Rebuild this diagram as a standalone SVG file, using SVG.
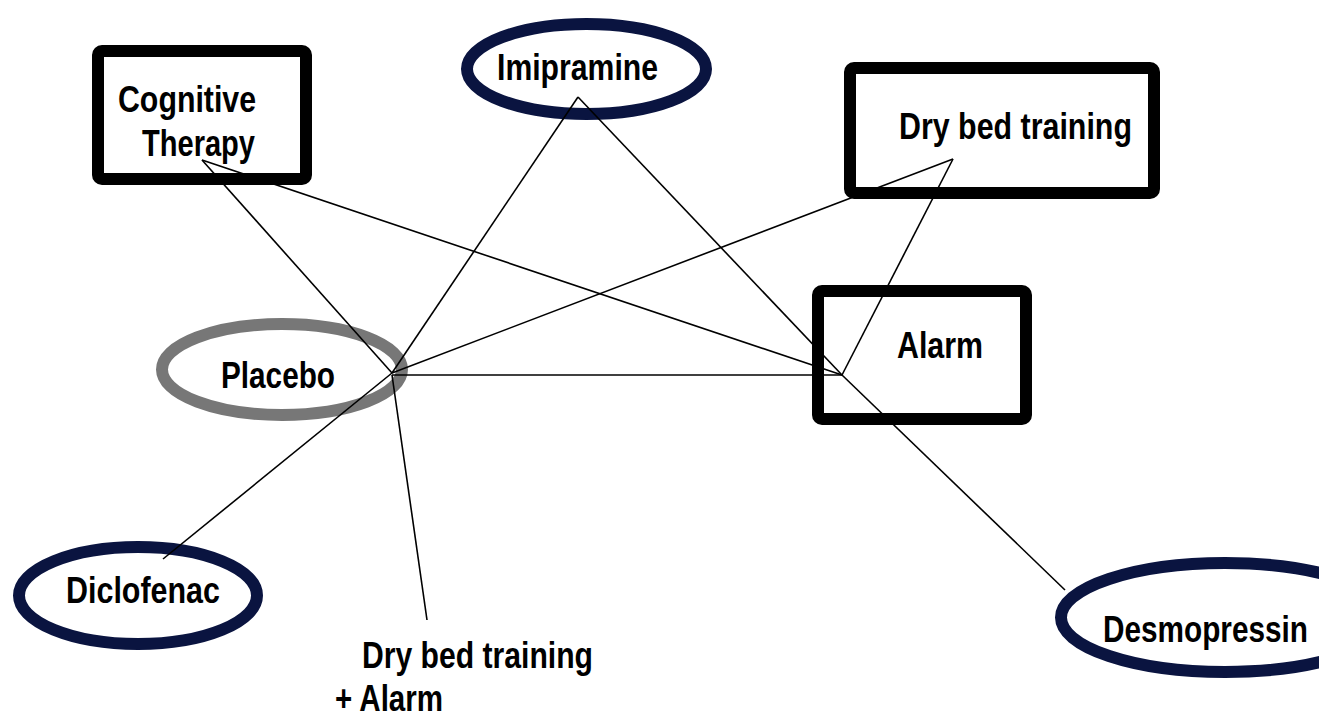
<svg xmlns="http://www.w3.org/2000/svg" width="1319" height="715" viewBox="0 0 1319 715">
<style>
.box{fill:#fff;stroke:#000;stroke-width:12}
.ell{fill:#fff;stroke:#0a1440;stroke-width:12}
.plc{fill:#fff;stroke:#777;stroke-width:12}
.lbl{font-family:"Liberation Sans Narrow","Liberation Sans",Arial,sans-serif;font-weight:bold;font-size:36px;fill:#000}
.edge{stroke:#000;stroke-width:1.6;fill:none}
</style>
<rect width="1319" height="715" fill="#fff"/>
<g id="node-cognitive">
<rect class="box" x="98" y="51" width="208" height="128" rx="4"/>
<text class="lbl" x="118" y="112" textLength="138" lengthAdjust="spacingAndGlyphs">Cognitive</text>
<text class="lbl" x="142" y="156" textLength="113" lengthAdjust="spacingAndGlyphs">Therapy</text>
</g>
<g id="node-imipramine">
<ellipse class="ell" cx="586.5" cy="69" rx="119.5" ry="45"/>
<text class="lbl" x="497" y="80" textLength="161" lengthAdjust="spacingAndGlyphs">Imipramine</text>
</g>
<g id="node-drybed">
<rect class="box" x="850" y="68" width="304" height="125" rx="4"/>
<text class="lbl" x="899" y="139" textLength="233" lengthAdjust="spacingAndGlyphs">Dry bed training</text>
</g>
<g id="node-alarm">
<rect class="box" x="818" y="291" width="208" height="128" rx="4"/>
<text class="lbl" x="897" y="358" textLength="86" lengthAdjust="spacingAndGlyphs">Alarm</text>
</g>
<g id="node-placebo">
<ellipse class="plc" cx="282" cy="369.5" rx="120" ry="45.5"/>
<text class="lbl" x="221" y="388" textLength="114" lengthAdjust="spacingAndGlyphs">Placebo</text>
</g>
<g id="node-diclofenac">
<ellipse class="ell" cx="138" cy="595.5" rx="119" ry="48.5"/>
<text class="lbl" x="66" y="603" textLength="154" lengthAdjust="spacingAndGlyphs">Diclofenac</text>
</g>
<g id="node-desmopressin">
<ellipse class="ell" cx="1225" cy="617.5" rx="164" ry="54.5"/>
<text class="lbl" x="1103" y="642" textLength="205" lengthAdjust="spacingAndGlyphs">Desmopressin</text>
</g>
<g id="node-drybed-alarm">
<text class="lbl" x="362" y="668" textLength="231" lengthAdjust="spacingAndGlyphs">Dry bed training</text>
<text class="lbl" x="335" y="711" textLength="108" lengthAdjust="spacingAndGlyphs">+ Alarm</text>
</g>
<g id="connectors">
<line class="edge" x1="202" y1="160" x2="392" y2="373"/>
<line class="edge" x1="202" y1="160" x2="842" y2="375"/>
<line class="edge" x1="578" y1="97" x2="392" y2="373"/>
<line class="edge" x1="578" y1="97" x2="842" y2="375"/>
<line class="edge" x1="953" y1="159" x2="392" y2="373"/>
<line class="edge" x1="953" y1="159" x2="842" y2="375"/>
<line class="edge" x1="392" y1="375" x2="842" y2="375"/>
<line class="edge" x1="392" y1="373" x2="163" y2="559"/>
<line class="edge" x1="392" y1="375" x2="427" y2="620"/>
<line class="edge" x1="842" y1="375" x2="1065" y2="590"/>
</g>
</svg>
